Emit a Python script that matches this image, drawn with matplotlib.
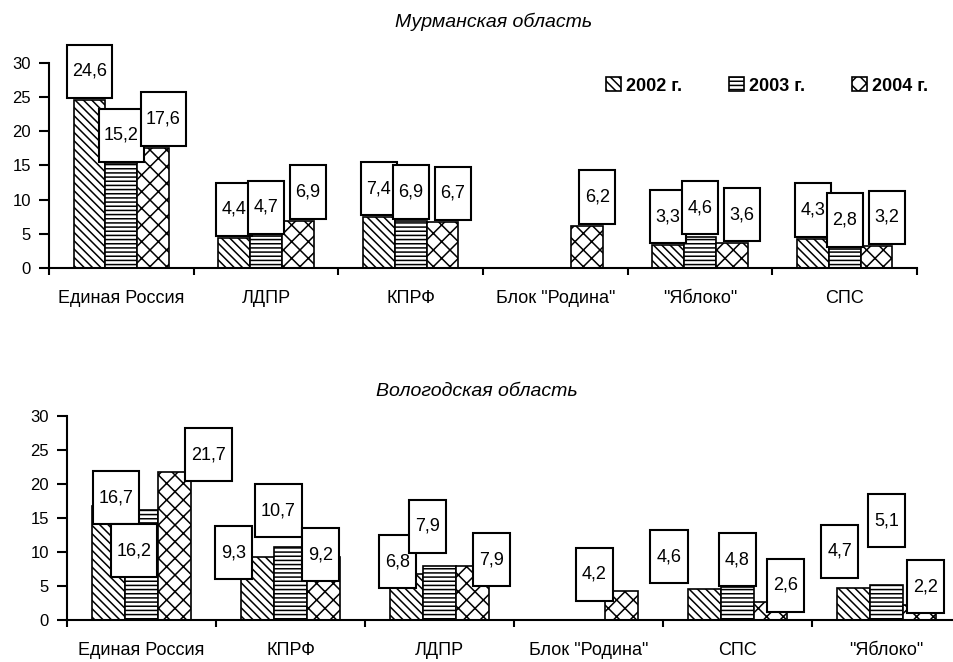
import numpy as np
import matplotlib
matplotlib.use("Agg")
import matplotlib.pyplot as plt
from matplotlib.patches import Rectangle

plt.rcParams['font.family'] = ['Liberation Sans', 'DejaVu Sans']
plt.rcParams['hatch.linewidth'] = 1.1

# данные
years = ['2002 г.', '2003 г.', '2004 г.']

murm_parties = ['Единая Россия', 'ЛДПР', 'КПРФ', 'Блок "Родина"', '"Яблоко"', 'СПС']
murm_2002 = [24.6, 4.4, 7.4, None, 3.3, 4.3]
murm_2003 = [15.2, 4.7, 6.9, None, 4.6, 2.8]
murm_2004 = [17.6, 6.9, 6.7, 6.2, 3.6, 3.2]

volog_parties = ['Единая Россия', 'КПРФ', 'ЛДПР', 'Блок "Родина"', 'СПС', '"Яблоко"']
volog_2002 = [16.7, 9.3, 6.8, None, 4.6, 4.7]
volog_2003 = [16.2, 10.7, 7.9, None, 4.8, 5.1]
volog_2004 = [21.7, 9.2, 7.9, 4.2, 2.6, 2.2]

# смещения подписей (как в оригинале): (dx, dy) относительно столбца
volog_label_shift = [
    [(0.05, -2.6), (-0.16, -3.3), (-0.06, -2.1), None, (-0.24, 0.8), (-0.095, 1.5)],
    [(-0.05, -9.9), (-0.08, 1.5), (-0.08, 2.0), None, (0.0, 0.2), (0.0, 5.6)],
    [(0.23, -1.3), (-0.02, -3.5), (0.13, -2.9), (-0.18, -1.4), (0.10, -1.4), (0.04, -1.2)],
]
murm_label_shift = [
    [(0.0, 0.3)] * 6,
    [(0.0, 0.3)] * 6,
    [(0.07, 0.3)] * 6,
]

hatches = ['\\\\\\\\', '----', 'xx']
bar_w = 0.22
box_h = 7.8


def fmt(v):
    return f'{v:.1f}'.replace('.', ',')


def draw_panel(ax, parties, series, shifts):
    x = np.arange(len(parties))
    containers = []
    for i, vals in enumerate(series):
        xs = [x[k] + (i - 1) * bar_w for k in range(len(vals)) if vals[k] is not None]
        hs = [v for v in vals if v is not None]
        bc = ax.bar(xs, hs, bar_w, facecolor='white', edgecolor='black',
                    linewidth=1.2, hatch=hatches[i], zorder=2, label=years[i])
        containers.append(bc)

    for i, vals in enumerate(series):
        for k, v in enumerate(vals):
            if v is None:
                continue
            dx, dy = shifts[i][k]
            txt = fmt(v)
            bw = 0.31 if len(txt) > 3 else 0.25
            cx = x[k] + (i - 1) * bar_w + dx
            y0 = v + dy
            ax.add_patch(Rectangle((cx - bw / 2, y0), bw, box_h, facecolor='white',
                                   edgecolor='black', linewidth=1.5, zorder=3,
                                   clip_on=False))
            ax.text(cx, y0 + box_h / 2, txt, ha='center', va='center',
                    fontsize=13, zorder=4, clip_on=False)

    ax.set_xlim(-0.5, len(parties) - 0.5)
    ax.set_ylim(0, 30)
    ax.set_yticks(range(0, 31, 5))
    ax.set_xticks(np.arange(-0.5, len(parties), 1.0))
    ax.set_xticklabels([])
    ax.set_xticks(x, minor=True)
    ax.set_xticklabels(parties, minor=True, fontsize=13)
    ax.tick_params(axis='x', which='major', direction='out', length=5, width=1.5)
    ax.tick_params(axis='x', which='minor', length=0, pad=16)
    ax.tick_params(axis='y', direction='out', length=7, width=1.5, labelsize=12, pad=6)
    for s in ['top', 'right']:
        ax.spines[s].set_visible(False)
    ax.spines['left'].set_linewidth(1.5)
    ax.spines['bottom'].set_linewidth(1.5)
    return containers


fig = plt.figure(figsize=(9.54, 6.62), dpi=100)
ax1 = fig.add_axes([0.0514, 0.5952, 0.9099, 0.3097])
ax2 = fig.add_axes([0.0702, 0.0634, 0.9371, 0.3082])

bars = draw_panel(ax1, murm_parties, [murm_2002, murm_2003, murm_2004], murm_label_shift)
draw_panel(ax2, volog_parties, [volog_2002, volog_2003, volog_2004], volog_label_shift)

fig.text(0.517, 0.967, 'Мурманская область', ha='center', va='center',
         fontsize=14, style='italic')
fig.text(0.50, 0.409, 'Вологодская область', ha='center', va='center',
         fontsize=14, style='italic')

leg = fig.legend(handles=bars, labels=years, loc='center right',
                 bbox_to_anchor=(0.973, 0.87), ncol=3, frameon=False,
                 handlelength=0.8, handleheight=0.8, handletextpad=0.3,
                 columnspacing=2.6, borderpad=0, borderaxespad=0,
                 prop={'size': 13, 'weight': 'bold'})

fig.savefig('out.png', dpi=100)
